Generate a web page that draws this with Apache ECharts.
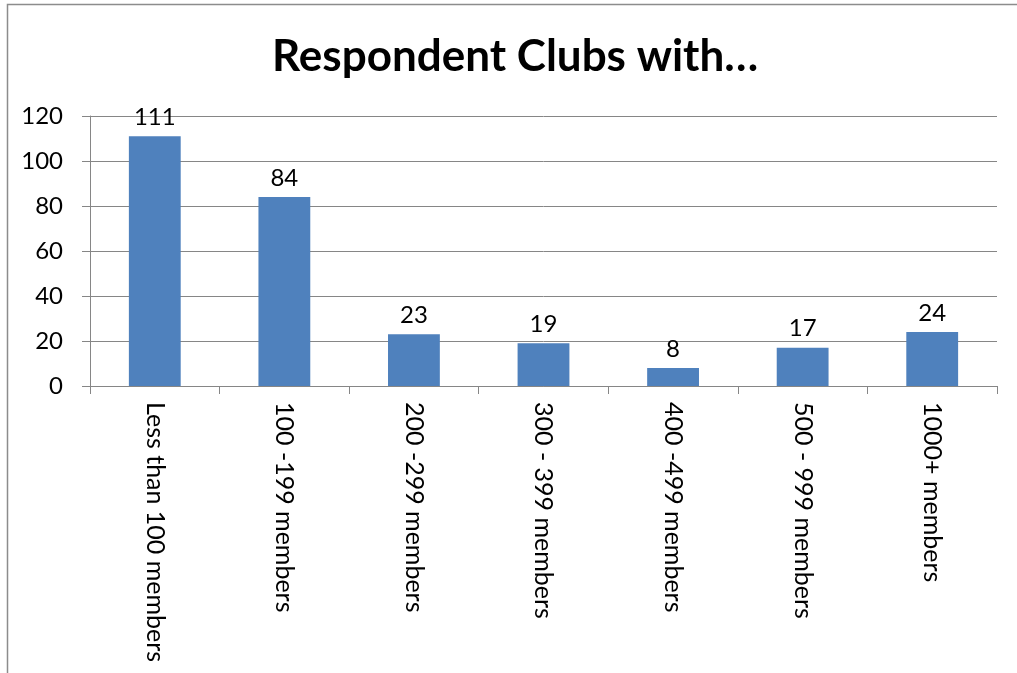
<!DOCTYPE html>
<html>
<head>
<meta charset="utf-8">
<script src="https://cdn.jsdelivr.net/npm/echarts@6/dist/echarts.min.js"></script>
<style>
html,body{margin:0;padding:0;background:#fff;}
#chart{width:1017px;height:673px;}
</style>
</head>
<body>
<div id="chart"></div>
<script>
const categories = ["Less than 100 members","100 -199 members","200 -299 members","300 - 399 members","400 -499 members","500 - 999 members","1000+ members"];
const values = [111, 84, 23, 19, 8, 17, 24];
const yTicks = [0, 20, 40, 60, 80, 100, 120];

const chart = echarts.init(document.getElementById('chart'));
const font = 'Lato, "Open Sans", sans-serif';
chart.setOption({
  animation: false,
  backgroundColor: '#fff',
  graphic: [{
    type: 'rect',
    shape: {x: 7.5, y: 4.5, width: 1030, height: 700},
    style: {fill: 'none', stroke: '#8c8c8c', lineWidth: 1.5},
    z: -1
  }],
  title: {
    text: 'Respondent Clubs with…',
    left: 267,
    top: 30,
    textStyle: {fontFamily: font, fontWeight: 'bold', fontSize: 44, color: '#000'}
  },
  grid: {left: 90, right: 20, top: 116, bottom: 287, containLabel: false},
  xAxis: {
    type: 'category',
    data: categories,
    axisLine: {lineStyle: {color: '#868686', width: 1}},
    axisTick: {show: true, length: 8, alignWithLabel: false, lineStyle: {color: '#868686'}},
    axisLabel: {rotate: -90, interval: 0, margin: 16, fontFamily: font, fontSize: 25, color: '#000'}
  },
  yAxis: {
    type: 'value',
    min: yTicks[0],
    max: yTicks[yTicks.length - 1],
    interval: yTicks[1] - yTicks[0],
    axisLine: {show: true, lineStyle: {color: '#868686', width: 1}},
    axisTick: {show: true, length: 8, lineStyle: {color: '#868686'}},
    splitLine: {lineStyle: {color: '#868686', width: 1}},
    axisLabel: {margin: 27, fontFamily: font, fontSize: 24, color: '#000'}
  },
  series: [{
    type: 'bar',
    data: values,
    barWidth: '40%',
    itemStyle: {color: '#4F81BD'},
    label: {show: true, position: 'top', distance: 7, fontFamily: font, fontSize: 24, color: '#000'}
  }]
});
</script>
</body>
</html>
